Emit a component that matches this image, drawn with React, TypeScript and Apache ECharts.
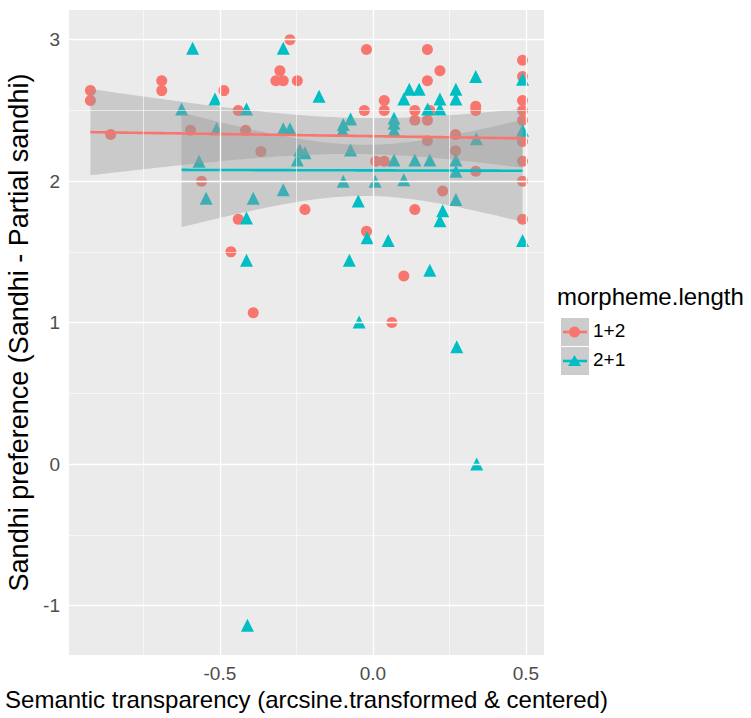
import React, { useEffect, useRef } from "react";
import * as echarts from "echarts";

// morpheme.length = "1+2"
const redX = [
  -0.923, -0.923, -0.857, -0.69, -0.69, -0.596, -0.56, -0.487, -0.44, -0.416,
  -0.366, -0.317, -0.304, -0.293, -0.271, -0.247, -0.44, -0.222, -0.464, -0.391,
  -0.021, -0.028, 0.037, 0.037, 0.009, 0.037, -0.021, 0.062, 0.101, 0.137,
  0.137, 0.137, 0.178, 0.178, 0.178, 0.178, 0.186, 0.219, 0.228, 0.27,
  0.27, 0.336, 0.336, 0.336, 0.489, 0.489, 0.489, 0.489, 0.489, 0.489,
  0.489, 0.489, 0.489,
];
const redY = [
  2.64, 2.57, 2.33, 2.71, 2.64, 2.36, 2.0, 2.64, 2.5, 2.36,
  2.21, 2.71, 2.78, 2.71, 3.0, 2.71, 1.73, 1.8, 1.5, 1.07,
  2.93, 2.5, 2.57, 2.5, 2.14, 2.14, 1.645, 1.0, 1.33, 1.8,
  2.5, 2.43, 2.93, 2.71, 2.43, 2.285, 2.5, 2.78, 1.93, 2.33,
  2.215, 2.53, 2.5, 2.07, 2.855, 2.74, 2.57, 2.5, 2.43, 2.28,
  2.14, 2.0, 1.73,
];

// morpheme.length = "2+1"
const blueX = [
  -0.625, -0.589, -0.568, -0.545, -0.516, -0.511, -0.413, -0.413, -0.413, -0.41,
  -0.391, -0.293, -0.293, -0.293, -0.271, -0.247, -0.239, -0.222, -0.176, -0.099,
  -0.097, -0.097, -0.077, -0.073, -0.073, -0.048, -0.045, -0.019, 0.007, 0.05,
  0.069, 0.069, 0.069, 0.069, 0.101, 0.101, 0.119, 0.137, 0.151, 0.179,
  0.186, 0.186, 0.219, 0.219, 0.219, 0.228, 0.271, 0.271, 0.271, 0.271,
  0.271, 0.274, 0.336, 0.338, 0.339, 0.489, 0.489, 0.489,
];
const blueY = [
  2.51, 2.94, 2.14, 1.88, 2.58, 2.37, 2.51, 1.74, 1.44, -1.14,
  1.88, 2.94, 2.37, 1.94, 2.37, 2.15, 2.22, 2.2, 2.6, 2.36,
  2.4, 2.0, 1.44, 2.44, 2.22, 1.86, 1.005, 1.6, 2.0, 1.58,
  2.445, 2.41, 2.36, 2.15, 2.58, 2.01, 2.65, 2.15, 2.65, 2.51,
  2.15, 1.37, 2.58, 2.51, 1.72, 1.79, 2.65, 2.58, 2.15, 2.07,
  1.87, 0.83, 2.74, 2.3, 0.0, 2.72, 2.36, 1.58,
];

const groupNames = ["1+2", "2+1"];
const groupColors = ["#F8766D", "#00BFC4"];

const xMajor = [-0.5, 0, 0.5];
const xMinor = [-0.75, -0.25, 0.25];
const yMajor = [-1, 0, 1, 2, 3];
const yMinor = [-0.5, 0.5, 1.5, 2.5];

const X_RANGE: [number, number] = [-0.993, 0.559];
const Y_RANGE: [number, number] = [-1.35, 3.21];

// Student t quantile (Cornish-Fisher expansion around the normal quantile)
function tQuantile975(df: number): number {
  const z = 1.959964;
  return (
    z +
    (z ** 3 + z) / (4 * df) +
    (5 * z ** 5 + 16 * z ** 3 + 3 * z) / (96 * df * df)
  );
}

// Linear fit with a 95% confidence band, evaluated on 80 points like geom_smooth(method = "lm")
function lmBand(xs: number[], ys: number[]) {
  const n = xs.length;
  const xbar = xs.reduce((a, b) => a + b, 0) / n;
  const ybar = ys.reduce((a, b) => a + b, 0) / n;
  let sxx = 0;
  let sxy = 0;
  for (let i = 0; i < n; i++) {
    sxx += (xs[i] - xbar) ** 2;
    sxy += (xs[i] - xbar) * (ys[i] - ybar);
  }
  const slope = sxy / sxx;
  const icpt = ybar - slope * xbar;
  let sse = 0;
  for (let i = 0; i < n; i++) sse += (ys[i] - icpt - slope * xs[i]) ** 2;
  const s = Math.sqrt(sse / (n - 2));
  const t = tQuantile975(n - 2);
  const lo = Math.min(...xs);
  const hi = Math.max(...xs);
  const fit: number[][] = [];
  const upper: number[][] = [];
  const lower: number[][] = [];
  for (let k = 0; k < 80; k++) {
    const x = lo + ((hi - lo) * k) / 79;
    const y = icpt + slope * x;
    const se = s * Math.sqrt(1 / n + (x - xbar) ** 2 / sxx);
    fit.push([x, y]);
    upper.push([x, y + t * se]);
    lower.push([x, y - t * se]);
  }
  return { fit, upper, lower };
}

const FONT = "'Liberation Sans', Arial, Helvetica, sans-serif";

export default function App() {
  const ref = useRef<HTMLDivElement>(null);

  useEffect(() => {
    if (!ref.current) return;
    const chart = echarts.init(ref.current, undefined, { renderer: "svg" });

    const groups = [
      { x: redX, y: redY },
      { x: blueX, y: blueY },
    ];
    const bands = groups.map((g) => lmBand(g.x, g.y));

    const gridLines = [
      ...xMinor.map((v) => ({ xAxis: v, lineStyle: { width: 0.6 } })),
      ...yMinor.map((v) => ({ yAxis: v, lineStyle: { width: 0.6 } })),
      ...xMajor.map((v) => ({ xAxis: v, lineStyle: { width: 1.3 } })),
      ...yMajor.map((v) => ({ yAxis: v, lineStyle: { width: 1.3 } })),
    ];

    const scatterSeries = groups.map((g, i) => ({
      type: "scatter",
      name: groupNames[i],
      data: g.x.map((x, k) => [x, g.y[k]]),
      symbol: i === 0 ? "circle" : "triangle",
      symbolSize: i === 0 ? 11 : 13,
      itemStyle: { color: groupColors[i], opacity: 1 },
      z: 2,
      silent: true,
    }));

    const ribbonSeries = bands.map((b, i) => ({
      type: "custom",
      name: groupNames[i] + " band",
      data: [0],
      z: 3,
      silent: true,
      renderItem: (_params: any, api: any) => {
        const pts = [
          ...b.upper.map((p) => api.coord(p)),
          ...b.lower
            .slice()
            .reverse()
            .map((p) => api.coord(p)),
        ];
        return {
          type: "polygon",
          shape: { points: pts },
          style: { fill: "rgba(153,153,153,0.4)", stroke: "none" },
        };
      },
    }));

    const fitSeries = bands.map((b, i) => ({
      type: "line",
      name: groupNames[i] + " fit",
      data: b.fit,
      showSymbol: false,
      lineStyle: { color: groupColors[i], width: 2.6 },
      z: 4,
      silent: true,
    }));

    chart.setOption({
      animation: false,
      textStyle: { fontFamily: FONT },
      grid: {
        left: 69,
        top: 10,
        width: 475,
        height: 645,
        show: true,
        backgroundColor: "#EBEBEB",
        borderWidth: 0,
        containLabel: false,
        outerBoundsMode: "none",
      },
      xAxis: {
        type: "value",
        min: X_RANGE[0],
        max: X_RANGE[1],
        name: "Semantic transparency (arcsine.transformed & centered)",
        nameLocation: "middle",
        nameGap: 32,
        nameTextStyle: { fontSize: 24, color: "#000", fontFamily: FONT },
        axisLine: { show: false },
        splitLine: { show: false },
        axisTick: {
          show: true,
          customValues: xMajor,
          length: 4,
          lineStyle: { color: "#333333", width: 1 },
        },
        axisLabel: {
          customValues: xMajor,
          formatter: (v: number) => v.toFixed(1),
          fontSize: 19,
          color: "#4D4D4D",
          margin: 9,
          fontFamily: FONT,
        },
      },
      yAxis: {
        type: "value",
        min: Y_RANGE[0],
        max: Y_RANGE[1],
        name: "Sandhi preference (Sandhi - Partial sandhi)",
        nameLocation: "middle",
        nameGap: 35,
        nameTextStyle: { fontSize: 27, color: "#000", fontFamily: FONT },
        axisLine: { show: false },
        splitLine: { show: false },
        axisTick: {
          show: true,
          customValues: yMajor,
          length: 4,
          lineStyle: { color: "#333333", width: 1 },
        },
        axisLabel: {
          customValues: yMajor,
          formatter: (v: number) => String(Math.round(v)),
          fontSize: 19,
          color: "#4D4D4D",
          margin: 9,
          fontFamily: FONT,
        },
      },
      series: [
        {
          type: "line",
          name: "grid",
          data: [],
          z: 1,
          silent: true,
          markLine: {
            silent: true,
            symbol: "none",
            label: { show: false },
            animation: false,
            lineStyle: { color: "#FFFFFF", type: "solid" },
            data: gridLines,
          },
        },
        ...scatterSeries,
        ...ribbonSeries,
        ...fitSeries,
      ],
      graphic: [
        {
          type: "text",
          left: 557,
          top: 284,
          style: {
            text: "morpheme.length",
            fontSize: 24,
            fill: "#000",
            fontFamily: FONT,
          },
        },
        ...groupNames.flatMap((name, i) => {
          const y0 = 318 + i * 29;
          const cy = y0 + 14;
          const marker =
            i === 0
              ? {
                  type: "circle",
                  shape: { cx: 574.5, cy, r: 5.5 },
                  style: { fill: groupColors[i] },
                }
              : {
                  type: "polygon",
                  shape: {
                    points: [
                      [574.5, cy - 6],
                      [581, cy + 5],
                      [568, cy + 5],
                    ],
                  },
                  style: { fill: groupColors[i] },
                };
          return [
            {
              type: "rect",
              shape: { x: 561, y: y0, width: 28, height: 28 },
              style: { fill: "#CCCCCC" },
            },
            {
              type: "line",
              shape: { x1: 563, y1: cy, x2: 587, y2: cy },
              style: { stroke: groupColors[i], lineWidth: 2.6 },
            },
            marker,
            {
              type: "text",
              left: 593,
              top: cy - 11,
              style: {
                text: name,
                fontSize: 19,
                fill: "#000",
                fontFamily: FONT,
              },
            },
          ];
        }),
      ],
    });

    return () => chart.dispose();
  }, []);

  return (
    <div
      ref={ref}
      style={{ position: "fixed", left: 0, top: 0, width: 751, height: 718, background: "#FFFFFF" }}
    />
  );
}
